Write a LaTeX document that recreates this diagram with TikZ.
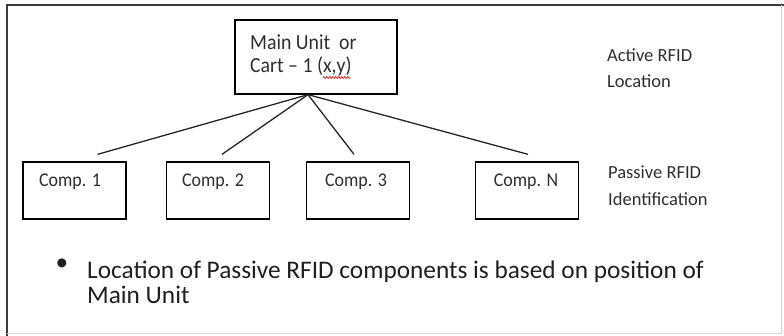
\documentclass[tikz,border=0pt]{standalone}
\usepackage{fontspec}
\setmainfont{Carlito}
\newfontfamily\narrowfont[FakeStretch=0.92]{Carlito}
\usetikzlibrary{calc,decorations.pathmorphing}
\definecolor{inkgray}{HTML}{2E2E2E}
\definecolor{framegray}{HTML}{3A3A3A}
\definecolor{palegray}{HTML}{D8D8D8}
\definecolor{spellred}{HTML}{D02020}
\tikzset{
  unitbox/.style={draw=black, line width=1.3pt, minimum width=162pt, minimum height=74pt, inner sep=0pt},
  compbox/.style={draw=black, line width=1.3pt, minimum width=103pt, minimum height=57pt, inner sep=0pt},
  boxtext/.style={text=inkgray, font=\narrowfont\fontsize{21.5}{24}\selectfont, inner sep=0pt, anchor=base west},
  comptext/.style={text=inkgray, font=\narrowfont\fontsize{19.5}{22}\selectfont, inner sep=0pt, anchor=base},
  sidetext/.style={text=inkgray, font=\fontsize{18.5}{22}\selectfont, inner sep=0pt, anchor=base west},
  bullettext/.style={text=black!88, font=\fontsize{25.3}{27}\selectfont, inner sep=0pt, anchor=base west},
  link/.style={draw=black!85, line width=1.3pt}
}
\begin{document}
\begin{tikzpicture}[x=1pt,y=-1pt]
  \useasboundingbox (0,0) rectangle (784,336);
  % page frame
  \draw[framegray, line width=2pt] (7,336) -- (7,5) -- (784,5);
  \draw[palegray, line width=1pt] (7,334) -- (781,334) -- (781,5);

  % main unit
  \node[unitbox] (main) at (316,57) {};
  \node[boxtext] (mainA) at (250,50) {Main Unit~ or};
  \node[boxtext] (mainB) at (250,73) {Cart – 1 (x,y)};
  % spell-check squiggle under x,y
  \draw[spellred, line width=0.7pt, decorate,
        decoration={zigzag, amplitude=1.1pt, segment length=3pt}]
    (323,77.5) -- (350,77.5);

  % components
  \node[compbox] (c1) at (74.5,190.5) {};
  \node[compbox] (c2) at (218,190.5) {};
  \node[compbox] (c3) at (358,190.5) {};
  \node[compbox] (cn) at (527,190.5) {};
  \node[comptext] (t1) at (70,187) {Comp. 1};
  \node[comptext] (t2) at (213,187) {Comp. 2};
  \node[comptext] (t3) at (356,187) {Comp. 3};
  \node[comptext] (tn) at (526,187) {Comp. N};

  % connectors from the bottom of the main unit
  \coordinate (apex) at ($(main.south)+(-8,0)$);
  \coordinate (e1) at ($(c1.north)+(23,-7)$);
  \coordinate (e2) at ($(c2.north)+(4,-7)$);
  \coordinate (e3) at ($(c3.north)+(-4,-7)$);
  \coordinate (en) at ($(cn.north)+(1,-7)$);
  \draw[link] (apex) -- (e1);
  \draw[link] (apex) -- (e2);
  \draw[link] (apex) -- (e3);
  \draw[link] (apex) -- (en);

  % side labels
  \node[sidetext] (activeA) at (607,62) {Active RFID};
  \node[sidetext] (activeB) at (607,88) {Location};
  \node[sidetext] (passiveA) at (608,179) {Passive RFID};
  \node[sidetext] (passiveB) at (608,206) {Identification};

  % note
  \node[bullettext, anchor=center] (bullet) at (62,265) {•};
  \node[bullettext] (noteA) at (87,279)
    {Location of Passive RFID components  is based on position of};
  \node[bullettext] (noteB) at (87,304) {Main Unit};
\end{tikzpicture}
\end{document}
